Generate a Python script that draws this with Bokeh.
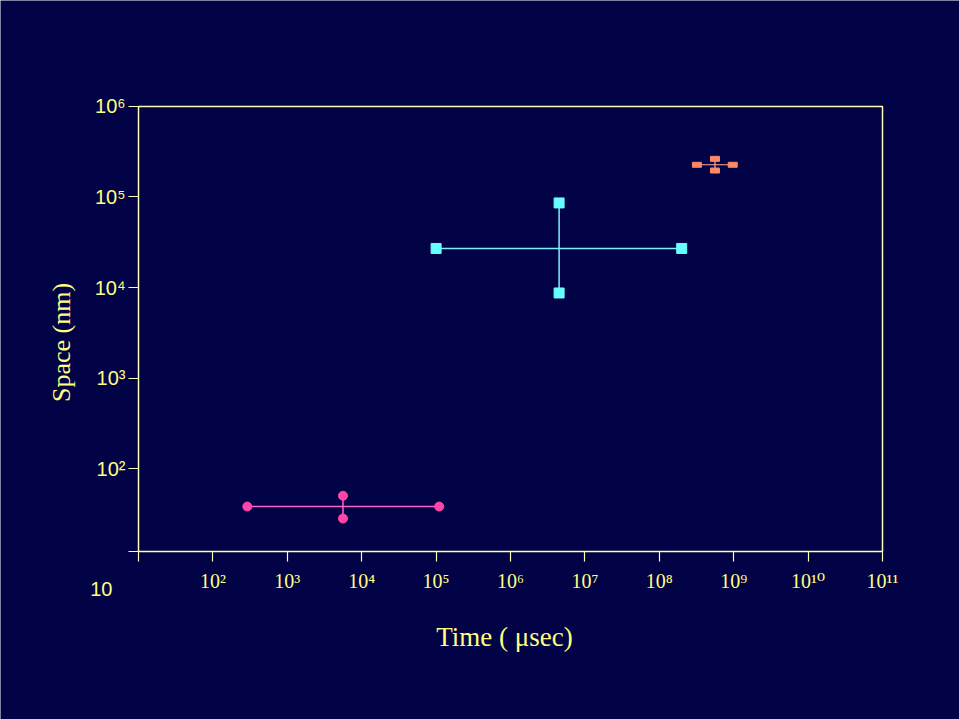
from bokeh.plotting import figure
from bokeh.models import FixedTicker, Label
from bokeh.embed import file_html
from bokeh.resources import INLINE

# ---- data ----
# pink series (circles)
pink_x = [5.6e3]
pink_x_lo = [2.9e2]
pink_x_hi = [1.1e5]
pink_y = [38]
pink_y_lo = [28]
pink_y_hi = [50]

# cyan series (squares)
cyan_x = [4.5e6]
cyan_x_lo = [1.0e5]
cyan_x_hi = [2.0e8]
cyan_y = [2.7e4]
cyan_y_lo = [8.7e3]
cyan_y_hi = [8.6e4]

# salmon series (small bars)
sal_x = [5.6e8]
sal_x_lo = [3.2e8]
sal_x_hi = [9.7e8]
sal_y = [2.27e5]
sal_y_lo = [1.96e5]
sal_y_hi = [2.64e5]

x_ticks = [1e1, 1e2, 1e3, 1e4, 1e5, 1e6, 1e7, 1e8, 1e9, 1e10, 1e11]
x_tick_labels = ["", "10²", "10³", "10⁴", "10⁵", "10⁶", "10⁷", "10⁸", "10⁹", "10¹⁰", "10¹¹"]
y_ticks = [12.1, 1e2, 1e3, 1e4, 1e5, 1e6]
y_tick_labels = ["", "10²", "10³", "10⁴", "10⁵", "10⁶"]
corner_label = "10"

BG = "#020246"
TXT = "#ffff80"
LINE = "#ffffb8"

# the frame fills the canvas so that the stray "10" label fits;
# axes are pinned to the box edges with fixed_location
p = figure(width=959, height=719, x_axis_type="log", y_axis_type="log",
           x_range=(10 ** -0.855, 10 ** 12.035), y_range=(10 ** -0.773, 10 ** 7.171),
           output_backend="svg", toolbar_location=None,
           min_border_left=0, min_border_right=0,
           min_border_top=0, min_border_bottom=0)

p.background_fill_color = BG
p.border_fill_color = BG
p.outline_line_color = None
p.xgrid.visible = False
p.ygrid.visible = False

# box
p.quad(left=[x_ticks[0]], right=[x_ticks[-1]], bottom=[y_ticks[0]], top=[y_ticks[-1]],
       fill_color=None, line_color=LINE, line_width=1.5)

# x axis
xa = p.xaxis[0]
xa.fixed_location = y_ticks[0]
xa.bounds = (10 ** 0.839, x_ticks[-1])
xa.ticker = FixedTicker(ticks=x_ticks, minor_ticks=[])
xa.major_label_overrides = {t: l for t, l in zip(x_ticks, x_tick_labels)}
xa.axis_label = "Time ( μsec)"
xa.axis_label_text_font = "Liberation Serif"
xa.axis_label_text_font_style = "normal"
xa.axis_label_text_font_size = "27px"
xa.axis_label_text_color = TXT
xa.axis_label_standoff = 27
xa.major_label_text_font = "'Liberation Serif', 'DejaVu Serif', serif"
xa.major_label_text_font_size = "20px"
xa.major_label_text_color = TXT
xa.major_label_standoff = 8

# y axis
ya = p.yaxis[0]
ya.fixed_location = x_ticks[0]
ya.bounds = (6.1, y_ticks[-1])
ya.ticker = FixedTicker(ticks=y_ticks, minor_ticks=[])
ya.major_label_overrides = {t: l for t, l in zip(y_ticks, y_tick_labels)}
ya.axis_label = "Space (nm)"
ya.axis_label_text_font = "Liberation Serif"
ya.axis_label_text_font_style = "normal"
ya.axis_label_text_font_size = "26px"
ya.axis_label_text_color = TXT
ya.axis_label_standoff = 16
ya.major_label_text_font = "Liberation Sans"
ya.major_label_text_font_size = "20px"
ya.major_label_text_color = TXT
ya.major_label_standoff = 3

for ax in (xa, ya):
    ax.axis_line_color = None
    ax.major_tick_line_color = LINE
    ax.major_tick_line_width = 1.2
    ax.major_tick_in = 0
    ax.major_tick_out = 10
    ax.minor_tick_line_color = None

# stray corner label "10"
p.add_layout(Label(x=10 ** 0.5, y=4.7, text=corner_label, text_align="center",
                   text_baseline="middle", text_color=TXT,
                   text_font="Liberation Sans", text_font_size="20px"))

# pink
p.segment(x0=pink_x_lo, y0=pink_y, x1=pink_x_hi, y1=pink_y, line_color="#ff66cc", line_width=1.5)
p.segment(x0=pink_x, y0=pink_y_lo, x1=pink_x, y1=pink_y_hi, line_color="#ff66cc", line_width=1.5)
p.scatter(x=pink_x_lo + pink_x_hi + pink_x + pink_x,
          y=pink_y + pink_y + pink_y_lo + pink_y_hi,
          marker="circle", size=9, fill_color="#ff44aa", line_color="#ff44aa")

# cyan
p.segment(x0=cyan_x_lo, y0=cyan_y, x1=cyan_x_hi, y1=cyan_y, line_color="#80f0ff", line_width=1.5)
p.segment(x0=cyan_x, y0=cyan_y_lo, x1=cyan_x, y1=cyan_y_hi, line_color="#80f0ff", line_width=1.5)
p.scatter(x=cyan_x_lo + cyan_x_hi + cyan_x + cyan_x,
          y=cyan_y + cyan_y + cyan_y_lo + cyan_y_hi,
          marker="square", size=10, fill_color="#66ffff", line_color="#66ffff")

# salmon
p.segment(x0=sal_x_lo, y0=sal_y, x1=sal_x_hi, y1=sal_y, line_color="#ffaa99", line_width=1.2)
p.segment(x0=sal_x, y0=sal_y_lo, x1=sal_x, y1=sal_y_hi, line_color="#ffaa99", line_width=1.2)
p.rect(x=sal_x_lo + sal_x_hi + sal_x + sal_x,
       y=sal_y + sal_y + sal_y_lo + sal_y_hi,
       width=9, height=5, width_units="screen", height_units="screen",
       fill_color="#ff8866", line_color="#ff8866")

open("out.html", "w").write(file_html(p, INLINE))
